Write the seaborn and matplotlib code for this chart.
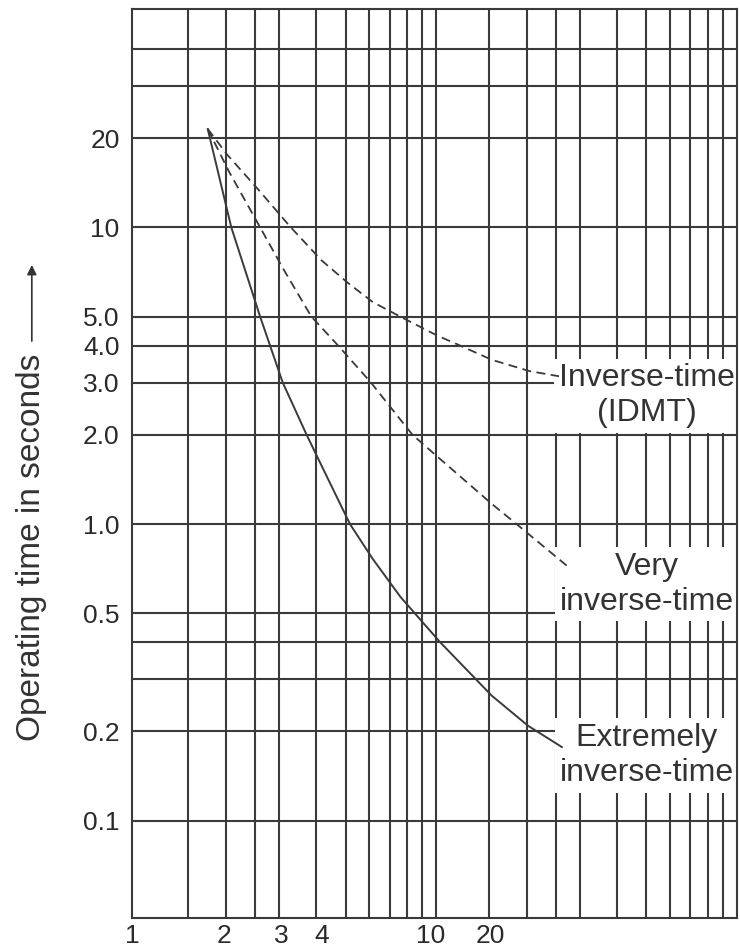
import numpy as np
import pandas as pd
import seaborn as sns
import matplotlib
matplotlib.use("Agg")
import matplotlib.pyplot as plt
from matplotlib.ticker import FixedLocator, NullFormatter

# Curve readings: multiple of pick-up current vs operating time (s)
idmt_x = [1.74, 2.02, 2.6, 3.26, 4.15, 5.10, 6.16, 7.61, 10.08, 12.0, 15.3, 20.4, 25.6]
idmt_y = [21.5, 17.6, 13.2, 10.1, 7.76, 6.49, 5.60, 5.0, 4.32, 4.0, 3.58, 3.28, 3.15]

very_x = [1.74, 2.05, 2.6, 3.11, 3.85, 4.72, 6.07, 8.34, 10.15, 15.3, 18.5, 28.0]
very_y = [21.5, 15.4, 10.0, 7.22, 5.0, 4.0, 3.0, 2.0, 1.68, 1.17, 1.0, 0.706]

ext_x = [1.74, 2.085, 2.6, 3.09, 3.71, 4.09, 5.17, 6.16, 7.61, 10.3, 15.3, 20.2, 26.2]
ext_y = [21.5, 10.0, 5.0, 3.0, 2.0, 1.63, 1.0, 0.762, 0.568, 0.4, 0.264, 0.209, 0.177]

# Grid values and tick labels
x_grid = [1.5, 2, 2.5, 3, 4, 5, 6, 7, 8, 9, 10, 15, 20, 25, 30, 40, 50, 60, 70, 80, 90]
y_grid = [0.1, 0.2, 0.3, 0.4, 0.5, 1, 2, 3, 4, 5, 10, 20, 30, 40]
x_tick_pos = [0.98, 1.97, 3.05, 4.15, 9.6, 15.1]
x_tick_lab = ["1", "2", "3", "4", "10", "20"]
y_tick_pos = [20, 10, 5, 4, 3, 2, 1, 0.5, 0.2, 0.1]
y_tick_lab = ["20", "10", "5.0", "4.0", "3.0", "2.0", "1.0", "0.5", "0.2", "0.1"]

sns.set_style("white")
plt.rcParams['font.family'] = ['Liberation Sans', 'DejaVu Sans']

ink = "#3a3a3a"
fig = plt.figure(figsize=(7.4, 9.5), dpi=100)
ax = fig.add_axes([0.1784, 0.0337, 0.8176, 0.9568])

dash = (0, (5, 3))
sns.lineplot(x=idmt_x, y=idmt_y, ax=ax, sort=False, estimator=None,
             color=ink, lw=1.3, linestyle=dash, zorder=3)
sns.lineplot(x=very_x, y=very_y, ax=ax, sort=False, estimator=None,
             color=ink, lw=1.3, linestyle=dash, zorder=3)
sns.lineplot(x=ext_x, y=ext_y, ax=ax, sort=False, estimator=None,
             color=ink, lw=1.4, zorder=3)

ax.set_xscale("log")
ax.set_yscale("log")
ax.set_xlim(0.975, 100)
ax.set_ylim(0.047, 54.5)

ax.xaxis.set_major_locator(FixedLocator(x_tick_pos))
ax.set_xticklabels(x_tick_lab)
ax.xaxis.set_minor_locator(FixedLocator(x_grid))
ax.xaxis.set_minor_formatter(NullFormatter())
ax.yaxis.set_major_locator(FixedLocator(y_tick_pos))
ax.set_yticklabels(y_tick_lab)
ax.yaxis.set_minor_locator(FixedLocator(y_grid))
ax.yaxis.set_minor_formatter(NullFormatter())

ax.tick_params(which="both", length=0)
ax.tick_params(axis="x", labelsize=19, pad=4, colors="#2a2a2a")
ax.tick_params(axis="y", labelsize=19, pad=9, colors="#2a2a2a")
ax.set_axisbelow(True)
ax.grid(False, which="major")
ax.grid(True, which="minor", color=ink, lw=1.5)
ax.yaxis.grid(True, which="major", color=ink, lw=1.5)
for s in ax.spines.values():
    s.set_color(ink)
    s.set_linewidth(1.5)
ax.set_xlabel("")
ax.set_ylabel("")

box = dict(boxstyle="square,pad=0.15", fc="white", ec="none")
ax.text(50, 2.71, "Inverse-time\n(IDMT)", ha="center", va="center",
        fontsize=23, color="#333", linespacing=1.2, bbox=box, zorder=2.2)
ax.text(50, 0.627, "Very\ninverse-time", ha="center", va="center",
        fontsize=23, color="#333", linespacing=1.2, bbox=box, zorder=2.2)
ax.text(50, 0.166, "Extremely\ninverse-time", ha="center", va="center",
        fontsize=23, color="#333", linespacing=1.2, bbox=box, zorder=2.2)

# y-axis title with upward arrow
fig.text(0.043, 0.424, "Operating time in seconds", rotation=90,
         ha="center", va="center", fontsize=24, color="#333")
ax.annotate("", xy=(0.043, 0.724), xytext=(0.043, 0.638),
            xycoords="figure fraction", textcoords="figure fraction",
            arrowprops=dict(arrowstyle="-|>", color="#333", lw=1.2,
                            mutation_scale=14))

plt.savefig("out.png", dpi=100)
